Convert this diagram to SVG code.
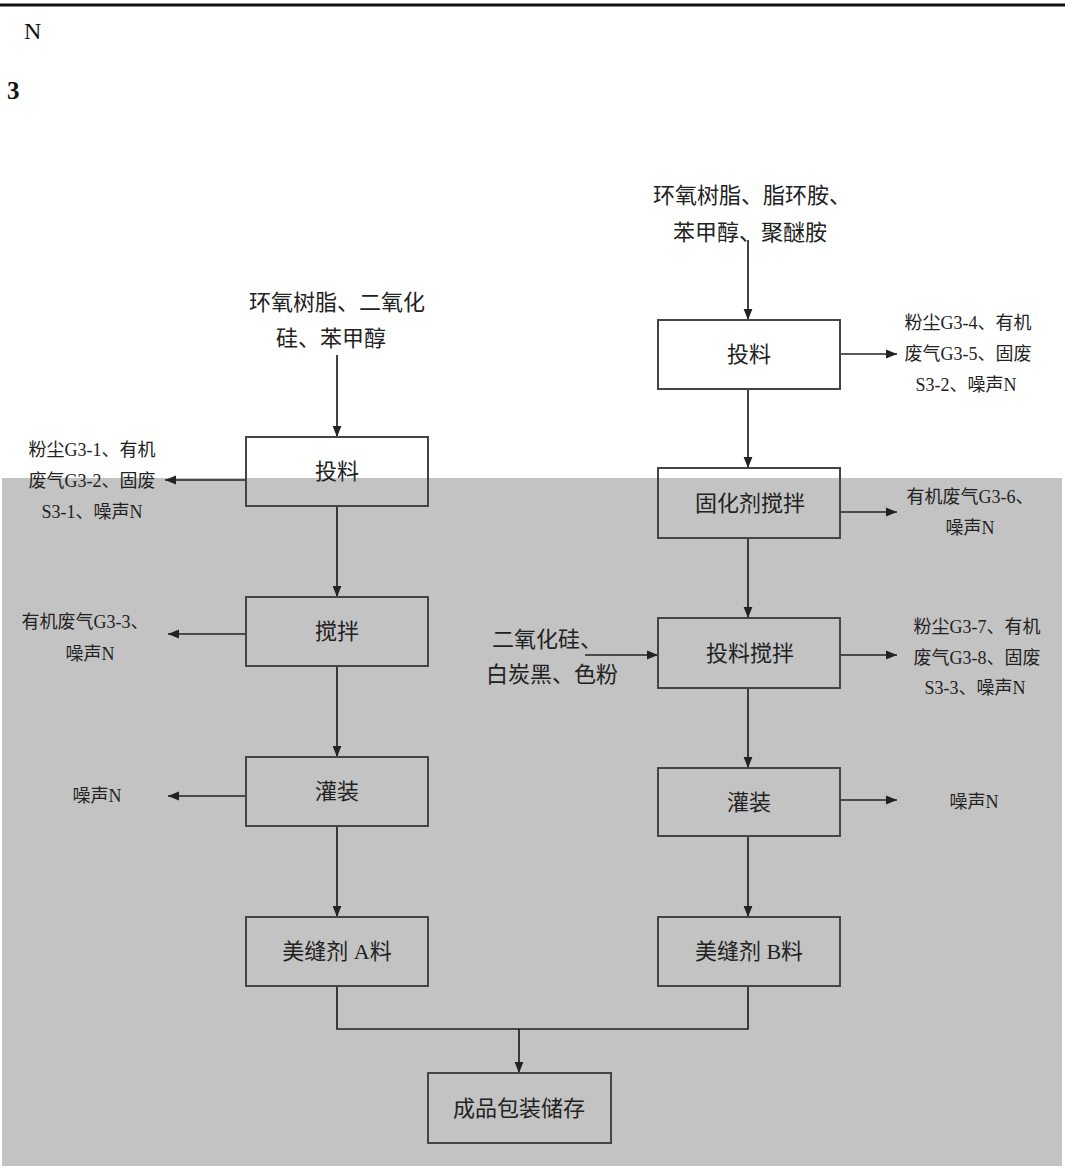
<svg xmlns="http://www.w3.org/2000/svg" width="1065" height="1168" viewBox="0 0 1065 1168">
<defs>
<marker id="ah" viewBox="0 0 10 10" refX="10" refY="5" markerWidth="11" markerHeight="11" markerUnits="userSpaceOnUse" orient="auto">
<path d="M0,1 L10,5 L0,9 Z" fill="#222"/>
</marker>
<style>
.box{fill:none;stroke:#444;stroke-width:2}
.t{font-family:"Liberation Serif","Noto Sans CJK SC",serif;fill:#222;text-anchor:middle}
.bt{font-size:22px}
.st{font-size:18px}
.it{font-size:22px}
.c{fill:none;stroke:#222;stroke-width:1.7}
.a{marker-end:url(#ah)}
</style>
</defs>
<rect x="0" y="0" width="1065" height="1168" fill="#fff"/>
<rect x="2" y="478" width="1060" height="688" fill="#c3c3c3"/>
<line x1="0" y1="5" x2="1065" y2="5" stroke="#111" stroke-width="3"/>
<text x="24" y="39" style="font-family:'Liberation Serif',serif;font-size:24px;fill:#111">N</text>
<text x="7" y="99" style="font-family:'Liberation Serif',serif;font-size:25px;font-weight:bold;fill:#111">3</text>

<g id="connectors">
<line class="c a" x1="337" y1="355" x2="337" y2="437"/>
<line class="c a" x1="246" y1="480" x2="165" y2="480"/>
<line class="c a" x1="337" y1="506" x2="337" y2="597"/>
<line class="c a" x1="246" y1="634" x2="168" y2="634"/>
<line class="c a" x1="337" y1="666" x2="337" y2="757"/>
<line class="c a" x1="246" y1="796" x2="168" y2="796"/>
<line class="c a" x1="337" y1="826" x2="337" y2="917"/>
<line class="c a" x1="748" y1="240" x2="748" y2="320"/>
<line class="c a" x1="840" y1="354" x2="897" y2="354"/>
<line class="c a" x1="748" y1="389" x2="748" y2="468"/>
<line class="c a" x1="840" y1="512" x2="897" y2="512"/>
<line class="c a" x1="748" y1="538" x2="748" y2="618"/>
<line class="c a" x1="585" y1="655" x2="658" y2="655"/>
<line class="c a" x1="840" y1="655" x2="897" y2="655"/>
<line class="c a" x1="748" y1="688" x2="748" y2="768"/>
<line class="c a" x1="840" y1="800" x2="897" y2="800"/>
<line class="c a" x1="748" y1="836" x2="748" y2="917"/>
<polyline class="c" points="337,986 337,1029 748,1029 748,986"/>
<line class="c a" x1="519" y1="1029" x2="519" y2="1073"/>
</g>

<g id="in-left">
<text class="t it" x="337" y="310">环氧树脂、二氧化</text>
<text class="t it" x="331" y="346">硅、苯甲醇</text>
</g>
<g id="in-right">
<text class="t it" x="752" y="203">环氧树脂、脂环胺、</text>
<text class="t it" x="750" y="240">苯甲醇、聚醚胺</text>
</g>
<g id="in-right2">
<text class="t it" x="547" y="647">二氧化硅、</text>
<text class="t it" x="552" y="682">白炭黑、色粉</text>
</g>

<g id="n-l1"><rect class="box" x="246" y="437" width="182" height="69"/><text class="t bt" x="337" y="479">投料</text></g>
<g id="n-l2"><rect class="box" x="246" y="597" width="182" height="69"/><text class="t bt" x="337" y="639">搅拌</text></g>
<g id="n-l3"><rect class="box" x="246" y="757" width="182" height="69"/><text class="t bt" x="337" y="799">灌装</text></g>
<g id="n-l4"><rect class="box" x="246" y="917" width="182" height="69"/><text class="t bt" x="337" y="959">美缝剂 A料</text></g>
<g id="n-r1"><rect class="box" x="658" y="320" width="182" height="69"/><text class="t bt" x="749" y="362">投料</text></g>
<g id="n-r2"><rect class="box" x="658" y="468" width="182" height="70"/><text class="t bt" x="750" y="511">固化剂搅拌</text></g>
<g id="n-r3"><rect class="box" x="658" y="618" width="182" height="70"/><text class="t bt" x="750" y="661">投料搅拌</text></g>
<g id="n-r4"><rect class="box" x="658" y="768" width="182" height="68"/><text class="t bt" x="749" y="810">灌装</text></g>
<g id="n-r5"><rect class="box" x="658" y="917" width="182" height="69"/><text class="t bt" x="749" y="959">美缝剂 B料</text></g>
<g id="n-end"><rect class="box" x="428" y="1073" width="183" height="70"/><text class="t bt" x="519" y="1116">成品包装储存</text></g>

<g id="out-l1">
<text class="t st" x="92" y="456">粉尘G3-1、有机</text>
<text class="t st" x="92" y="487">废气G3-2、固废</text>
<text class="t st" x="92" y="518">S3-1、噪声N</text>
</g>
<g id="out-l2">
<text class="t st" x="85" y="628">有机废气G3-3、</text>
<text class="t st" x="90" y="660">噪声N</text>
</g>
<g id="out-l3"><text class="t st" x="97" y="802">噪声N</text></g>
<g id="out-r1">
<text class="t st" x="968" y="329">粉尘G3-4、有机</text>
<text class="t st" x="968" y="360">废气G3-5、固废</text>
<text class="t st" x="966" y="391">S3-2、噪声N</text>
</g>
<g id="out-r2">
<text class="t st" x="970" y="503">有机废气G3-6、</text>
<text class="t st" x="970" y="534">噪声N</text>
</g>
<g id="out-r3">
<text class="t st" x="977" y="633">粉尘G3-7、有机</text>
<text class="t st" x="977" y="664">废气G3-8、固废</text>
<text class="t st" x="975" y="694">S3-3、噪声N</text>
</g>
<g id="out-r4"><text class="t st" x="974" y="808">噪声N</text></g>
</svg>
